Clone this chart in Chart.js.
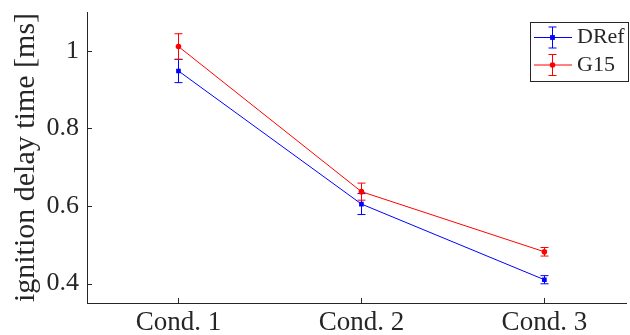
<!DOCTYPE html>
<html>
<head>
<meta charset="utf-8">
<script src="https://cdn.jsdelivr.net/npm/chart.js@4.4.1/dist/chart.umd.min.js"></script>
<style>
  html, body { margin: 0; padding: 0; background: #fff; overflow: hidden; }
  canvas { display: block; }
</style>
</head>
<body>
<canvas id="idt" width="630" height="335"></canvas>
<script>
// ignition delay times per condition, mean and half-width of error bar
const conditions = ['Cond. 1', 'Cond. 2', 'Cond. 3'];
const drefMean = [0.948, 0.605, 0.410];
const drefErr = [0.030, 0.027, 0.0105];
const g15Mean = [1.011, 0.637, 0.482];
const g15Err = [0.033, 0.022, 0.011];
const yTicks = [0.4, 0.6, 0.8, 1];

const axisColor = '#262626';
const serif = "'Liberation Serif', 'Times New Roman', serif";
Chart.defaults.font.family = serif;
Chart.defaults.color = axisColor;

const toPoints = arr => arr.map((v, i) => ({ x: i + 1, y: v }));

const series = [
  { label: 'DRef', mean: drefMean, err: drefErr, color: '#0000ff', style: 'rect', radius: 3.3 },
  { label: 'G15', mean: g15Mean, err: g15Err, color: '#ff0000', style: 'circle', radius: 2.8 }
];

// vertical error bars with caps, drawn right after each dataset
const errorBars = {
  id: 'errorBars',
  afterDatasetDraw(chart, args) {
    const s = series[args.index];
    const { ctx, scales: { x, y } } = chart;
    ctx.save();
    ctx.strokeStyle = s.color;
    ctx.lineWidth = 1;
    s.mean.forEach((m, i) => {
      const px = Math.round(x.getPixelForValue(i + 1)) + 0.5;
      const top = y.getPixelForValue(m + s.err[i]);
      const bot = y.getPixelForValue(m - s.err[i]);
      ctx.beginPath();
      ctx.moveTo(px, top); ctx.lineTo(px, bot);
      ctx.moveTo(px - 4, top); ctx.lineTo(px + 4, top);
      ctx.moveTo(px - 4, bot); ctx.lineTo(px + 4, bot);
      ctx.stroke();
    });
    ctx.restore();
  }
};

// tick marks pointing into the plot area
const innerTicks = {
  id: 'innerTicks',
  afterDraw(chart) {
    const { ctx, chartArea: a, scales: { x, y } } = chart;
    ctx.save();
    ctx.strokeStyle = axisColor;
    ctx.lineWidth = 1;
    ctx.beginPath();
    y.ticks.forEach(t => {
      const py = Math.round(y.getPixelForValue(t.value)) + 0.5;
      ctx.moveTo(a.left, py); ctx.lineTo(a.left + 5, py);
    });
    x.ticks.forEach(t => {
      const px = Math.round(x.getPixelForValue(t.value)) + 0.5;
      ctx.moveTo(px, a.bottom); ctx.lineTo(px, a.bottom - 5);
    });
    ctx.stroke();
    ctx.restore();
  }
};

// boxed legend in the upper right corner, each entry shows line, bar and marker
const boxLegend = {
  id: 'boxLegend',
  afterDraw(chart) {
    const { ctx } = chart;
    const bx = 530.5, by = 22.5, bw = 98, bh = 59;
    ctx.save();
    ctx.fillStyle = '#fff';
    ctx.fillRect(bx, by, bw, bh);
    ctx.strokeStyle = axisColor;
    ctx.lineWidth = 1;
    ctx.strokeRect(bx, by, bw, bh);
    series.forEach((s, i) => {
      const ry = 37.5 + i * 27.5;
      const cx = 552.5;
      ctx.strokeStyle = s.color;
      ctx.beginPath();
      ctx.moveTo(534, ry); ctx.lineTo(572, ry);
      ctx.moveTo(cx, ry - 10.5); ctx.lineTo(cx, ry + 10.5);
      ctx.moveTo(cx - 4, ry - 10.5); ctx.lineTo(cx + 4, ry - 10.5);
      ctx.moveTo(cx - 4, ry + 10.5); ctx.lineTo(cx + 4, ry + 10.5);
      ctx.stroke();
      ctx.fillStyle = s.color;
      ctx.beginPath();
      if (s.style === 'rect') {
        ctx.rect(cx - 2.4, ry - 2.4, 4.8, 4.8);
      } else {
        ctx.arc(cx, ry, s.radius, 0, Math.PI * 2);
      }
      ctx.fill();
      ctx.fillStyle = axisColor;
      ctx.font = '22px ' + serif;
      ctx.textBaseline = 'middle';
      ctx.fillText(s.label, 577, ry);
    });
    ctx.restore();
  }
};

new Chart(document.getElementById('idt'), {
  type: 'line',
  data: {
    datasets: series.map((s, i) => ({
      label: s.label,
      data: toPoints(s.mean),
      borderColor: s.color,
      backgroundColor: s.color,
      borderWidth: 1,
      pointStyle: s.style,
      pointRadius: s.radius,
      pointBorderWidth: 0,
      pointHoverRadius: s.radius,
      order: series.length - i
    }))
  },
  options: {
    responsive: false,
    animation: false,
    devicePixelRatio: 1,
    layout: { padding: { top: 12, left: 0, right: 0, bottom: 0 } },
    plugins: {
      legend: { display: false },
      tooltip: { enabled: false }
    },
    scales: {
      x: {
        type: 'linear',
        min: 0.5,
        max: 3.45,
        afterBuildTicks: s => { s.ticks = conditions.map((c, i) => ({ value: i + 1 })); },
        afterFit: s => { s.height = 32; s.paddingLeft = 0; s.paddingRight = 0; },
        ticks: {
          callback: v => conditions[v - 1],
          font: { size: 27 },
          color: axisColor,
          padding: 4,
          maxRotation: 0,
          autoSkip: false
        },
        grid: { drawOnChartArea: false, drawTicks: false },
        border: { color: axisColor, width: 1 }
      },
      y: {
        min: 0.35,
        max: 1.1,
        afterBuildTicks: s => { s.ticks = yTicks.map(v => ({ value: v })); },
        afterFit: s => { s.width = 87; s.paddingTop = 0; s.paddingBottom = 0; },
        ticks: {
          callback: v => String(v),
          font: { size: 26 },
          color: axisColor,
          padding: 8
        },
        grid: { drawOnChartArea: false, drawTicks: false },
        border: { color: axisColor, width: 1 },
        title: {
          display: true,
          text: 'ignition delay time [ms]',
          font: { size: 30 },
          color: axisColor,
          padding: { top: 8, bottom: 0 }
        }
      }
    }
  },
  plugins: [errorBars, innerTicks, boxLegend]
});
</script>
</body>
</html>
